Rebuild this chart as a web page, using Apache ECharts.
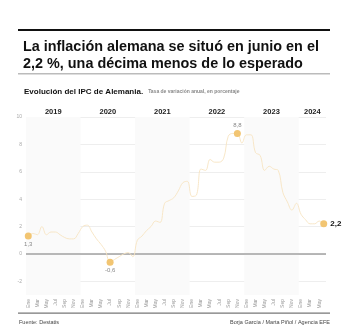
<!DOCTYPE html>
<html><head><meta charset="utf-8">
<script src="https://cdn.jsdelivr.net/npm/echarts@6/dist/echarts.min.js"></script>
<style>html,body{margin:0;padding:0;background:#fff}#c{width:350px;height:333px}</style>
</head><body><div id="c"></div>
<script>
var monthNames = ['Ene','Feb','Mar','Abr','May','Jun','Jul','Ago','Sep','Oct','Nov','Dic'];
var years = ['2019','2020','2021','2022','2023','2024'];
var v2019 = [1.3, 1.5, 1.4, 2.0, 1.4, 1.6, 1.6, 1.4, 1.2, 1.1, 1.1, 1.5];
var v2020 = [2.0, 2.1, 1.6, 1.1, 0.7, 0.2, -0.6, -0.4, -0.2, 0.0, 0.1, -0.2];
var v2021 = [1.0, 1.3, 1.7, 2.0, 2.4, 2.3, 3.7, 3.9, 4.1, 4.6, 5.2, 5.3];
var v2022 = [4.2, 4.3, 6.2, 6.1, 6.9, 6.7, 6.7, 7.0, 8.6, 8.8, 8.8, 8.1];
var v2023 = [8.7, 8.7, 7.4, 7.2, 6.1, 6.4, 6.2, 6.1, 4.5, 3.8, 3.2, 3.7];
var v2024 = [2.9, 2.5, 2.2, 2.2, 2.4, 2.2];
var highlighted = [0, 18, 46, 65];
var yTicks = [-2, 0, 2, 4, 6, 8, 10];

var yearVals = [v2019, v2020, v2021, v2022, v2023, v2024];
var categories = [], values = [], yearStart = [], yearEnd = [];
yearVals.forEach(function (arr, yi) {
  yearStart.push(categories.length);
  arr.forEach(function (v, mi) {
    categories.push(monthNames[mi] + ' ' + years[yi]);
    values.push(v);
  });
  yearEnd.push(categories.length);
});
var nCat = categories.length;
var labelPos = {0: 'bottom', 18: 'bottom', 46: 'top', 65: 'right'};
var seriesData = values.map(function (v, i) {
  if (highlighted.indexOf(i) < 0) return v;
  var last = i === nCat - 1;
  return {
    value: v, symbol: 'circle', symbolSize: 7,
    itemStyle: {color: '#f2c572'},
    label: {
      show: true, position: labelPos[i], distance: last ? 3 : 2,
      fontSize: last ? 8 : 6, fontWeight: last ? 'bold' : 'normal',
      color: last ? '#111' : '#888',
      formatter: function (p) { return String(p.value).replace('.', ','); }
    }
  };
});
var bands = years.map(function (y, i) {
  return [{
    xAxis: yearStart[i],
    itemStyle: {color: i % 2 === 0 ? '#fafafa' : 'rgba(255,255,255,0)'},
    label: {show: true, position: 'top', distance: 1, formatter: y,
            fontSize: 7.5, fontWeight: 'bold', color: '#222'}
  }, {xAxis: yearEnd[i]}];
});

var chart = echarts.init(document.getElementById('c'), null, {renderer: 'canvas'});
chart.setOption({
  animation: false,
  backgroundColor: '#fff',
  textStyle: {fontFamily: 'Liberation Sans, Arial, sans-serif'},
  title: [{
    text: 'La inflación alemana se situó en junio en el\n2,2 %, una décima menos de lo esperado',
    left: 18, top: 34,
    textStyle: {fontSize: 14.4, fontWeight: 'bold', color: '#111', lineHeight: 17,
                fontFamily: 'Liberation Sans, Arial, sans-serif'}
  }, {
    text: '{a|Evolución del IPC de Alemania.} {b|Tasa de variación anual, en porcentaje}',
    left: 19, top: 78,
    textStyle: {rich: {
      a: {fontSize: 8, fontWeight: 'bold', color: '#111', fontFamily: 'Liberation Sans, Arial, sans-serif'},
      b: {fontSize: 5, color: '#888', fontFamily: 'Liberation Sans, Arial, sans-serif'}
    }}
  }],
  graphic: [
    {type: 'rect', shape: {x: 18, y: 29, width: 312, height: 2}, style: {fill: '#111'}},
    {type: 'rect', shape: {x: 18, y: 73, width: 312, height: 1.5}, style: {fill: '#bbb'}},
    {type: 'rect', shape: {x: 18, y: 312.5, width: 312, height: 1.2}, style: {fill: '#777'}},
    {type: 'text', left: 19, top: 319, style: {text: 'Fuente: Destatis', fontSize: 5.5, fill: '#444', fontFamily: 'Liberation Sans, Arial, sans-serif'}},
    {type: 'text', right: 20, top: 319, style: {text: 'Borja García / Marta Piñol / Agencia EFE', fontSize: 5.5, fill: '#444', fontFamily: 'Liberation Sans, Arial, sans-serif'}}
  ],
  grid: {left: 26, right: 24, top: 117, bottom: 38, containLabel: false},
  xAxis: [{
    type: 'category', data: categories, boundaryGap: true,
    axisLine: {show: false}, axisTick: {show: false}, splitLine: {show: false},
    axisLabel: {
      rotate: 90, fontSize: 5, color: '#999', margin: 4,
      interval: function (i) { return i % 2 === 0 || i === nCat - 1; },
      formatter: function (v) { return v.split(' ')[0]; }
    }
  }, {
    type: 'value', min: 0, max: nCat, show: false
  }],
  yAxis: {
    type: 'value', min: -3, max: 10, interval: 1,
    axisLine: {show: false}, axisTick: {show: false},
    axisLabel: {fontSize: 5, color: '#aaa', margin: 4,
      formatter: function (v) { return yTicks.indexOf(v) >= 0 ? String(v) : ''; }},
    splitLine: {lineStyle: {color: ['rgba(0,0,0,0)', '#eeeeee'], width: 1}}
  },
  series: [{
    type: 'line', xAxisIndex: 1, data: [], silent: true,
    markArea: {silent: true, data: bands}
  }, {
    type: 'line', xAxisIndex: 0, data: seriesData, smooth: 0.4,
    symbol: 'circle', symbolSize: 0, showSymbol: true,
    lineStyle: {color: '#f7e4c2', width: 0.9},
    itemStyle: {color: '#f2c572'},
    z: 5,
    markLine: {silent: true, symbol: 'none', label: {show: false},
      lineStyle: {color: '#a0a0a0', width: 1.5, type: 'solid'},
      data: [{yAxis: 0}]}
  }]
});
</script></body></html>
